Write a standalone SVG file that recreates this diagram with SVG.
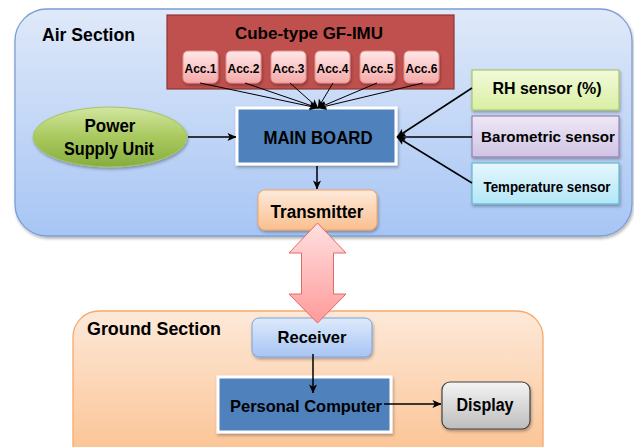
<svg xmlns="http://www.w3.org/2000/svg" width="634" height="447" viewBox="0 0 634 447">
<defs>
<linearGradient id="gAir" x1="0" y1="0" x2="0" y2="1"><stop offset="0" stop-color="#dfe9f9"/><stop offset="1" stop-color="#a7c5f4"/></linearGradient>
<linearGradient id="gGround" x1="0" y1="0" x2="0" y2="1"><stop offset="0" stop-color="#fde9d9"/><stop offset="1" stop-color="#fbbf8c"/></linearGradient>
<linearGradient id="gAcc" x1="0" y1="0" x2="0" y2="1"><stop offset="0" stop-color="#ffe8e8"/><stop offset="1" stop-color="#f5a9a9"/></linearGradient>
<linearGradient id="gPsu" x1="0" y1="0" x2="0" y2="1"><stop offset="0" stop-color="#d2e6a0"/><stop offset="0.5" stop-color="#a9c95e"/><stop offset="1" stop-color="#86ad3e"/></linearGradient>
<linearGradient id="gTx" x1="0" y1="0" x2="0" y2="1"><stop offset="0" stop-color="#fdeadb"/><stop offset="1" stop-color="#fabf8e"/></linearGradient>
<linearGradient id="gRh" x1="0" y1="0" x2="0" y2="1"><stop offset="0" stop-color="#f2fad9"/><stop offset="1" stop-color="#d9efa3"/></linearGradient>
<linearGradient id="gBaro" x1="0" y1="0" x2="0" y2="1"><stop offset="0" stop-color="#eee8f5"/><stop offset="1" stop-color="#d0c3e4"/></linearGradient>
<linearGradient id="gTemp" x1="0" y1="0" x2="0" y2="1"><stop offset="0" stop-color="#e6f7fd"/><stop offset="1" stop-color="#b3e6f6"/></linearGradient>
<linearGradient id="gRx" x1="0" y1="0" x2="0" y2="1"><stop offset="0" stop-color="#deeafc"/><stop offset="1" stop-color="#a7c5f3"/></linearGradient>
<linearGradient id="gDisp" x1="0" y1="0" x2="0" y2="1"><stop offset="0" stop-color="#f4f4f4"/><stop offset="1" stop-color="#bdbdbd"/></linearGradient>
<linearGradient id="gBig" x1="0" y1="0" x2="0" y2="1"><stop offset="0" stop-color="#ffe0e0"/><stop offset="1" stop-color="#ff9a9a"/></linearGradient>
<filter id="sh" x="-10%" y="-10%" width="130%" height="140%"><feDropShadow dx="1" dy="2" stdDeviation="1.5" flood-color="#000" flood-opacity="0.3"/></filter>
<marker id="ah" viewBox="0 0 10 10" markerUnits="userSpaceOnUse" markerWidth="9" markerHeight="9" refX="9.5" refY="5" orient="auto"><path d="M0,0.5 L10,5 L0,9.5 L2.5,5 z" fill="#000"/></marker>
</defs>
<style>
text{font-family:"Liberation Sans",Arial,sans-serif;font-weight:bold;fill:#000;}
.c{text-anchor:middle;}
.acc rect{fill:url(#gAcc);stroke:#e39090;stroke-width:1;}
.acc text{font-size:13.5px;text-anchor:middle;}
.ln{stroke:#000;fill:none;marker-end:url(#ah);}
</style>

<g id="air-section">
<rect x="15" y="9" width="617" height="227" rx="32" fill="url(#gAir)" stroke="#7c9fd3" stroke-width="1.3" filter="url(#sh)"/>
<text x="42" y="41" font-size="19" textLength="93" lengthAdjust="spacingAndGlyphs">Air Section</text>
</g>

<g id="ground-section">
<rect x="73" y="311" width="470" height="160" rx="26" fill="url(#gGround)" stroke="#f6a96a" stroke-width="1.3"/>
<text x="87" y="335" font-size="18.5" textLength="134" lengthAdjust="spacingAndGlyphs">Ground Section</text>
</g>

<g id="gf-imu">
<rect x="167" y="15" width="287" height="74" fill="#c0504d" stroke="#8c3836" stroke-width="1.2"/>
<text x="309" y="39" class="c" font-size="17" textLength="148" lengthAdjust="spacingAndGlyphs">Cube-type GF-IMU</text>
</g>
<g id="acc1" class="acc"><rect x="183" y="51" width="35" height="32" rx="5" filter="url(#sh)"/><text x="200.5" y="73" textLength="32" lengthAdjust="spacingAndGlyphs">Acc.1</text></g>
<g id="acc2" class="acc"><rect x="226" y="51" width="35" height="32" rx="5" filter="url(#sh)"/><text x="243.5" y="73" textLength="32" lengthAdjust="spacingAndGlyphs">Acc.2</text></g>
<g id="acc3" class="acc"><rect x="271" y="51" width="35" height="32" rx="5" filter="url(#sh)"/><text x="288.5" y="73" textLength="32" lengthAdjust="spacingAndGlyphs">Acc.3</text></g>
<g id="acc4" class="acc"><rect x="315" y="51" width="35" height="32" rx="5" filter="url(#sh)"/><text x="332.5" y="73" textLength="32" lengthAdjust="spacingAndGlyphs">Acc.4</text></g>
<g id="acc5" class="acc"><rect x="360" y="51" width="35" height="32" rx="5" filter="url(#sh)"/><text x="377.5" y="73" textLength="32" lengthAdjust="spacingAndGlyphs">Acc.5</text></g>
<g id="acc6" class="acc"><rect x="404" y="51" width="35" height="32" rx="5" filter="url(#sh)"/><text x="421.5" y="73" textLength="32" lengthAdjust="spacingAndGlyphs">Acc.6</text></g>

<g id="power-supply">
<ellipse cx="110" cy="137" rx="77" ry="30" fill="url(#gPsu)" stroke="#a5c468" stroke-width="1" filter="url(#sh)"/>
<text x="110" y="132" class="c" font-size="17.5" textLength="51" lengthAdjust="spacingAndGlyphs">Power</text>
<text x="109" y="155" class="c" font-size="17.5" textLength="90" lengthAdjust="spacingAndGlyphs">Supply Unit</text>
</g>

<g id="main-board">
<rect x="237" y="108" width="159" height="56" fill="#4f81bd" stroke="#fff" stroke-width="3" filter="url(#sh)"/>
<text x="318" y="144" class="c" font-size="18" textLength="109" lengthAdjust="spacingAndGlyphs">MAIN BOARD</text>
</g>

<g id="transmitter">
<rect x="258" y="190" width="119" height="40" rx="7" fill="url(#gTx)" stroke="#f7a25e" stroke-width="1" filter="url(#sh)"/>
<text x="317" y="218" class="c" font-size="18" textLength="93" lengthAdjust="spacingAndGlyphs">Transmitter</text>
</g>

<g id="rh-sensor">
<rect x="472" y="70" width="147" height="40" fill="url(#gRh)" stroke="#a6c86a" stroke-width="1.2" filter="url(#sh)"/>
<text x="547" y="94" class="c" font-size="16.5" textLength="109" lengthAdjust="spacingAndGlyphs">RH sensor (%)</text>
</g>
<g id="barometric-sensor">
<rect x="472" y="116" width="147" height="41" fill="url(#gBaro)" stroke="#9580b5" stroke-width="1.2" filter="url(#sh)"/>
<text x="548" y="142" class="c" font-size="15" textLength="134" lengthAdjust="spacingAndGlyphs">Barometric  sensor</text>
</g>
<g id="temperature-sensor">
<rect x="472" y="163" width="147" height="41" fill="url(#gTemp)" stroke="#5fb8cf" stroke-width="1.2" filter="url(#sh)"/>
<text x="547" y="192" class="c" font-size="14" textLength="127" lengthAdjust="spacingAndGlyphs">Temperature  sensor</text>
</g>

<g id="receiver">
<rect x="252" y="318" width="120" height="39" rx="7" fill="url(#gRx)" stroke="#7fa2d6" stroke-width="1" filter="url(#sh)"/>
<text x="312" y="343" class="c" font-size="16.5" textLength="69" lengthAdjust="spacingAndGlyphs">Receiver</text>
</g>

<g id="personal-computer">
<rect x="218" y="377" width="173" height="55" fill="#4f81bd" stroke="#fff" stroke-width="3" filter="url(#sh)"/>
<text x="306" y="412" class="c" font-size="17" textLength="152" lengthAdjust="spacingAndGlyphs">Personal Computer</text>
</g>

<g id="display">
<rect x="442" y="382" width="88" height="47" rx="8" fill="url(#gDisp)" stroke="#404040" stroke-width="1.2" filter="url(#sh)"/>
<text x="485" y="411" class="c" font-size="18" textLength="57" lengthAdjust="spacingAndGlyphs">Display</text>
</g>

<g id="connectors">
<line class="ln" stroke-width="1" x1="200" y1="83" x2="318" y2="108"/>
<line class="ln" stroke-width="1" x1="245" y1="83" x2="318" y2="108"/>
<line class="ln" stroke-width="1" x1="290" y1="83" x2="318" y2="108"/>
<line class="ln" stroke-width="1" x1="333" y1="83" x2="318" y2="108"/>
<line class="ln" stroke-width="1" x1="377" y1="83" x2="318" y2="108"/>
<line class="ln" stroke-width="1" x1="423" y1="83" x2="318" y2="108"/>
<line class="ln" stroke-width="1.5" x1="188" y1="137" x2="236" y2="137"/>
<line class="ln" stroke-width="1.5" x1="472" y1="88" x2="397" y2="137"/>
<line class="ln" stroke-width="1.5" x1="472" y1="137" x2="397" y2="137"/>
<line class="ln" stroke-width="1.5" x1="472" y1="183" x2="397" y2="137"/>
<line class="ln" stroke-width="1.5" x1="317" y1="166" x2="317" y2="189"/>
<line class="ln" stroke-width="1.5" x1="313" y1="354" x2="313" y2="393"/>
<line class="ln" stroke-width="1.5" x1="384" y1="404" x2="441" y2="404"/>
<polygon id="radio-link" points="317.5,223 346,253 333.5,253 333.5,294 346,294 317.5,323 289,294 301.5,294 301.5,253 289,253" fill="url(#gBig)" stroke="#e06a6a" stroke-width="1"/>
</g>
</svg>
